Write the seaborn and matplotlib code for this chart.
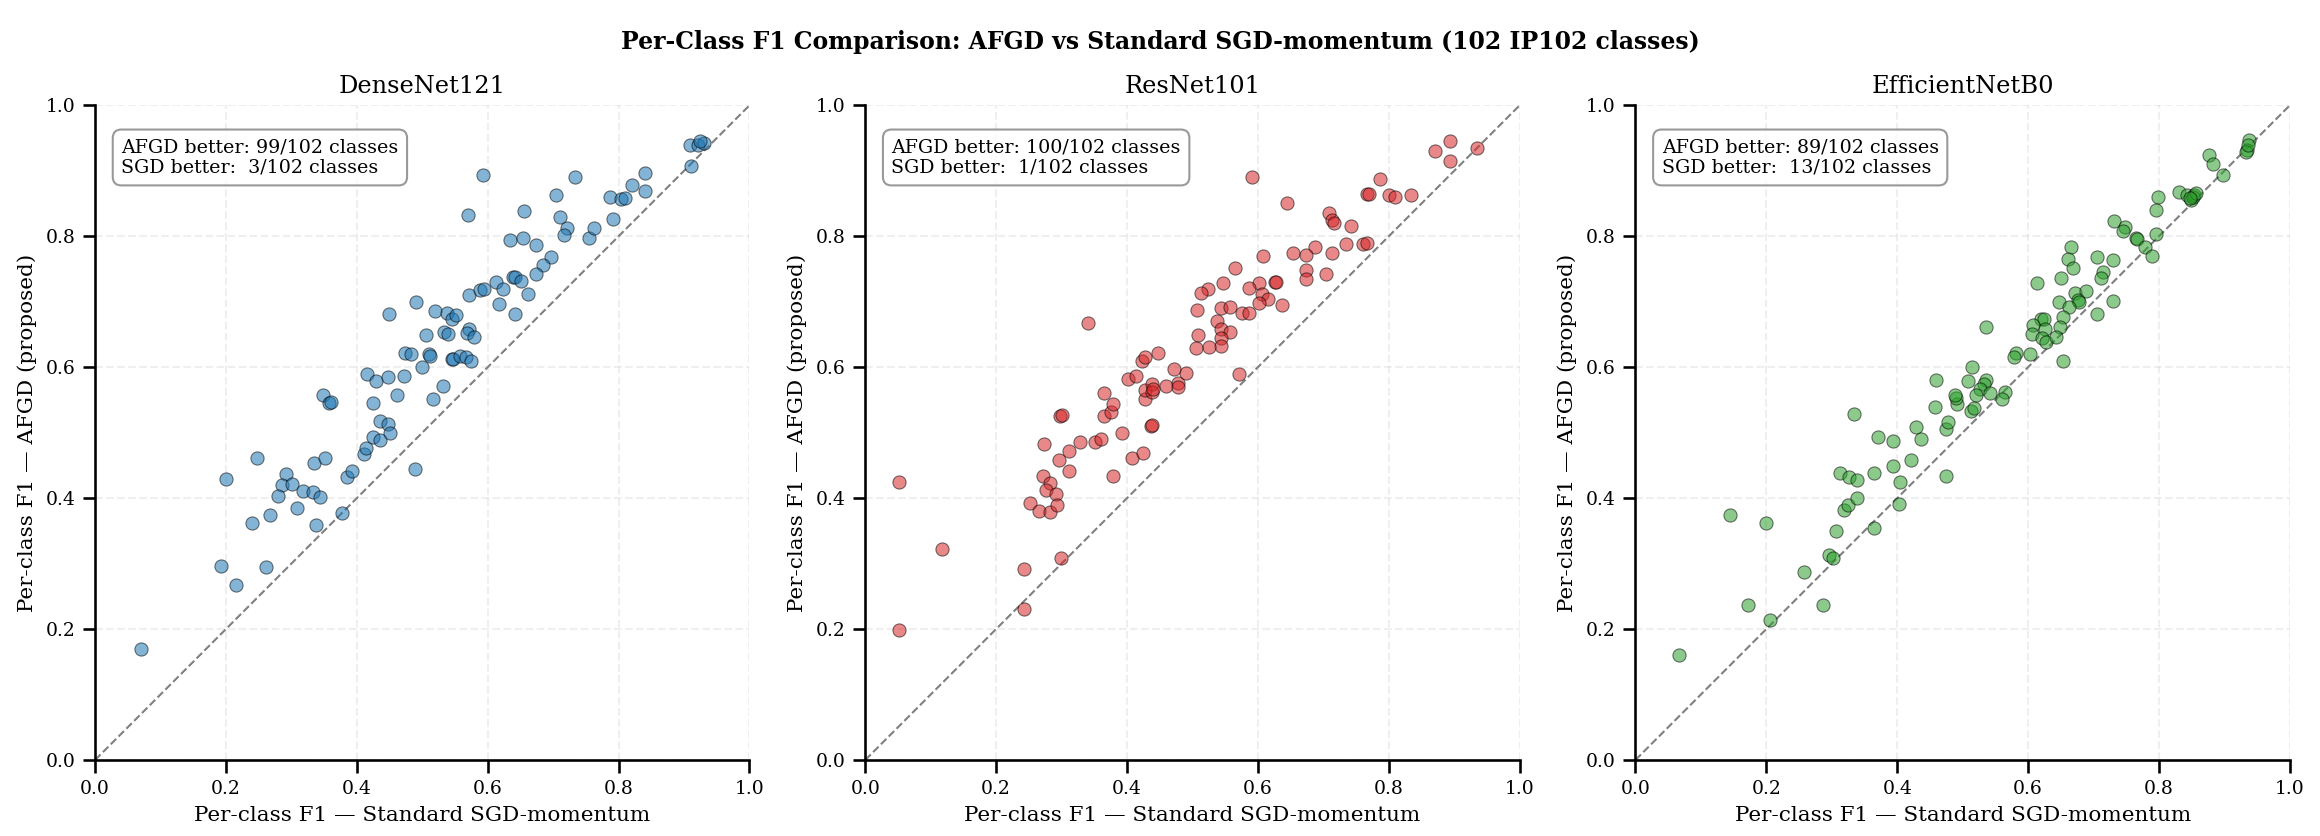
import numpy as np
import pandas as pd
import seaborn as sns
import matplotlib.pyplot as plt

# per-class F1 (x = standard SGD-momentum, y = AFGD)
densenet_sgd = [0.200, 0.247, 0.291, 0.285, 0.301, 0.280, 0.317, 0.309, 0.333, 0.343,
                0.334, 0.352, 0.348, 0.358, 0.361, 0.385, 0.392, 0.377, 0.268, 0.239,
                0.338, 0.411, 0.414, 0.416, 0.430, 0.424, 0.435, 0.424, 0.435, 0.448,
                0.450, 0.448, 0.449, 0.462, 0.472, 0.489, 0.473, 0.483, 0.491, 0.500,
                0.506, 0.510, 0.512, 0.516, 0.519, 0.531, 0.533, 0.539, 0.538, 0.545,
                0.552, 0.545, 0.547, 0.557, 0.567, 0.575, 0.571, 0.568, 0.579, 0.571,
                0.588, 0.595, 0.617, 0.613, 0.624, 0.642, 0.592, 0.570, 0.734, 0.704,
                0.656, 0.711, 0.721, 0.716, 0.634, 0.654, 0.673, 0.696, 0.684, 0.673,
                0.639, 0.641, 0.651, 0.661, 0.754, 0.762, 0.792, 0.787, 0.804, 0.810,
                0.821, 0.840, 0.840, 0.911, 0.909, 0.922, 0.930, 0.070, 0.193, 0.216,
                0.261, 0.925]
densenet_afgd = [0.429, 0.462, 0.437, 0.420, 0.422, 0.403, 0.411, 0.385, 0.410, 0.402,
                 0.454, 0.462, 0.558, 0.546, 0.547, 0.432, 0.442, 0.377, 0.374, 0.362,
                 0.359, 0.468, 0.476, 0.589, 0.579, 0.546, 0.518, 0.494, 0.488, 0.513,
                 0.499, 0.585, 0.681, 0.558, 0.586, 0.444, 0.622, 0.620, 0.699, 0.600,
                 0.649, 0.620, 0.617, 0.551, 0.686, 0.571, 0.653, 0.650, 0.682, 0.673,
                 0.680, 0.612, 0.613, 0.617, 0.615, 0.609, 0.659, 0.652, 0.646, 0.711,
                 0.718, 0.720, 0.696, 0.730, 0.719, 0.681, 0.893, 0.833, 0.891, 0.863,
                 0.839, 0.829, 0.812, 0.802, 0.795, 0.798, 0.786, 0.768, 0.756, 0.743,
                 0.738, 0.738, 0.731, 0.712, 0.797, 0.812, 0.826, 0.860, 0.857, 0.858,
                 0.879, 0.897, 0.869, 0.908, 0.940, 0.940, 0.942, 0.169, 0.296, 0.267,
                 0.294, 0.945]

resnet_sgd = [0.052, 0.052, 0.117, 0.243, 0.242, 0.299, 0.298, 0.300, 0.273, 0.296,
              0.311, 0.328, 0.312, 0.272, 0.282, 0.276, 0.292, 0.252, 0.265, 0.283,
              0.293, 0.351, 0.360, 0.378, 0.392, 0.365, 0.375, 0.378, 0.365, 0.408,
              0.425, 0.436, 0.438, 0.402, 0.413, 0.428, 0.427, 0.438, 0.438, 0.459,
              0.478, 0.478, 0.490, 0.472, 0.423, 0.428, 0.447, 0.571, 0.340, 0.591,
              0.645, 0.871, 0.894, 0.893, 0.935, 0.786, 0.767, 0.769, 0.800, 0.809,
              0.834, 0.708, 0.713, 0.716, 0.743, 0.735, 0.760, 0.767, 0.713, 0.688,
              0.673, 0.654, 0.608, 0.673, 0.673, 0.704, 0.565, 0.626, 0.628, 0.601,
              0.587, 0.606, 0.615, 0.602, 0.637, 0.546, 0.524, 0.513, 0.507, 0.544,
              0.557, 0.575, 0.587, 0.538, 0.543, 0.558, 0.543, 0.509, 0.543, 0.525,
              0.505, 0.440]
resnet_afgd = [0.425, 0.198, 0.322, 0.291, 0.230, 0.308, 0.526, 0.527, 0.483, 0.458,
               0.472, 0.486, 0.442, 0.434, 0.423, 0.412, 0.407, 0.393, 0.381, 0.379,
               0.390, 0.486, 0.490, 0.433, 0.500, 0.526, 0.531, 0.544, 0.560, 0.461,
               0.469, 0.510, 0.512, 0.582, 0.587, 0.552, 0.565, 0.574, 0.562, 0.571,
               0.576, 0.569, 0.591, 0.597, 0.610, 0.616, 0.621, 0.589, 0.667, 0.891,
               0.851, 0.931, 0.946, 0.915, 0.935, 0.887, 0.864, 0.865, 0.863, 0.860,
               0.863, 0.836, 0.825, 0.820, 0.815, 0.788, 0.788, 0.790, 0.774, 0.783,
               0.771, 0.775, 0.770, 0.748, 0.734, 0.742, 0.751, 0.730, 0.730, 0.728,
               0.721, 0.712, 0.704, 0.698, 0.695, 0.728, 0.719, 0.714, 0.687, 0.690,
               0.692, 0.683, 0.683, 0.671, 0.659, 0.653, 0.645, 0.649, 0.633, 0.631,
               0.630, 0.566]

effnet_sgd = [0.067, 0.172, 0.205, 0.145, 0.200, 0.258, 0.287, 0.296, 0.302, 0.306,
              0.318, 0.325, 0.338, 0.313, 0.327, 0.338, 0.364, 0.364, 0.334, 0.370,
              0.394, 0.393, 0.405, 0.402, 0.421, 0.428, 0.437, 0.475, 0.475, 0.477,
              0.458, 0.491, 0.512, 0.517, 0.490, 0.489, 0.460, 0.938, 0.934, 0.933,
              0.877, 0.882, 0.898, 0.830, 0.843, 0.849, 0.854, 0.852, 0.857, 0.798,
              0.795, 0.796, 0.732, 0.748, 0.745, 0.765, 0.766, 0.778, 0.789, 0.666,
              0.661, 0.668, 0.705, 0.729, 0.714, 0.711, 0.650, 0.613, 0.672, 0.689,
              0.677, 0.678, 0.647, 0.662, 0.730, 0.705, 0.653, 0.649, 0.619, 0.624,
              0.608, 0.626, 0.606, 0.622, 0.628, 0.643, 0.536, 0.581, 0.578, 0.603,
              0.654, 0.514, 0.508, 0.536, 0.533, 0.527, 0.521, 0.542, 0.565, 0.560,
              0.848, 0.936]
effnet_afgd = [0.160, 0.236, 0.214, 0.374, 0.362, 0.287, 0.237, 0.313, 0.309, 0.349,
               0.382, 0.389, 0.400, 0.439, 0.432, 0.427, 0.438, 0.355, 0.529, 0.494,
               0.487, 0.449, 0.424, 0.391, 0.458, 0.508, 0.491, 0.434, 0.505, 0.516,
               0.539, 0.543, 0.533, 0.537, 0.553, 0.557, 0.580, 0.947, 0.932, 0.929,
               0.924, 0.911, 0.893, 0.868, 0.863, 0.855, 0.863, 0.860, 0.866, 0.860,
               0.840, 0.803, 0.824, 0.814, 0.808, 0.797, 0.796, 0.783, 0.770, 0.784,
               0.766, 0.752, 0.768, 0.763, 0.746, 0.736, 0.736, 0.729, 0.714, 0.716,
               0.702, 0.700, 0.699, 0.692, 0.701, 0.681, 0.677, 0.662, 0.673, 0.673,
               0.664, 0.659, 0.650, 0.645, 0.639, 0.646, 0.661, 0.622, 0.616, 0.620,
               0.610, 0.600, 0.579, 0.580, 0.575, 0.566, 0.557, 0.560, 0.562, 0.551,
               0.858, 0.940]

models = ['DenseNet121', 'ResNet101', 'EfficientNetB0']
colors = ['#1f77b4', '#d62728', '#2ca02c']
box_texts = ['AFGD better: 99/102 classes\nSGD better:  3/102 classes',
             'AFGD better: 100/102 classes\nSGD better:  1/102 classes',
             'AFGD better: 89/102 classes\nSGD better:  13/102 classes']
ticks = [0.0, 0.2, 0.4, 0.6, 0.8, 1.0]

sns.set_theme(style='ticks')
plt.rcParams['font.family'] = 'serif'
plt.rcParams['font.serif'] = ['DejaVu Serif']
for key in ['text.color', 'axes.labelcolor', 'xtick.color', 'ytick.color', 'axes.edgecolor']:
    plt.rcParams[key] = 'black'

fig, axes = plt.subplots(1, 3, figsize=(2320 / 150, 836 / 150), dpi=150)
fig.subplots_adjust(left=0.041, right=0.987, bottom=0.091, top=0.874, wspace=0.177)

data = [(densenet_sgd, densenet_afgd), (resnet_sgd, resnet_afgd), (effnet_sgd, effnet_afgd)]
for ax, name, (x, y), col, txt in zip(axes, models, data, colors, box_texts):
    df = pd.DataFrame({'sgd': x, 'afgd': y})
    ax.plot([0, 1], [0, 1], linestyle='--', color='gray', linewidth=1, zorder=1)
    sns.scatterplot(data=df, x='sgd', y='afgd', ax=ax, color=col, alpha=0.55,
                    s=40, edgecolor='black', linewidth=0.5, zorder=3)
    ax.set_xlim(0, 1)
    ax.set_ylim(0, 1)
    ax.set_xticks(ticks)
    ax.set_yticks(ticks)
    ax.tick_params(labelsize=9)
    ax.grid(True, linestyle='--', alpha=0.3)
    ax.set_xlabel('Per-class F1 \u2014 Standard SGD-momentum', fontsize=10.3)
    ax.set_ylabel('Per-class F1 \u2014 AFGD (proposed)', fontsize=10.3)
    ax.set_title(name, fontsize=11.6)
    ax.text(0.04, 0.95, txt, transform=ax.transAxes, fontsize=9.1, va='top',
            bbox=dict(boxstyle='round,pad=0.45', facecolor='white', alpha=0.8, edgecolor='gray'))
    sns.despine(ax=ax)

fig.suptitle('Per-Class F1 Comparison: AFGD vs Standard SGD-momentum (102 IP102 classes)',
             fontsize=11.3, fontweight='bold', y=0.964)
fig.savefig('out.png', dpi=150)
